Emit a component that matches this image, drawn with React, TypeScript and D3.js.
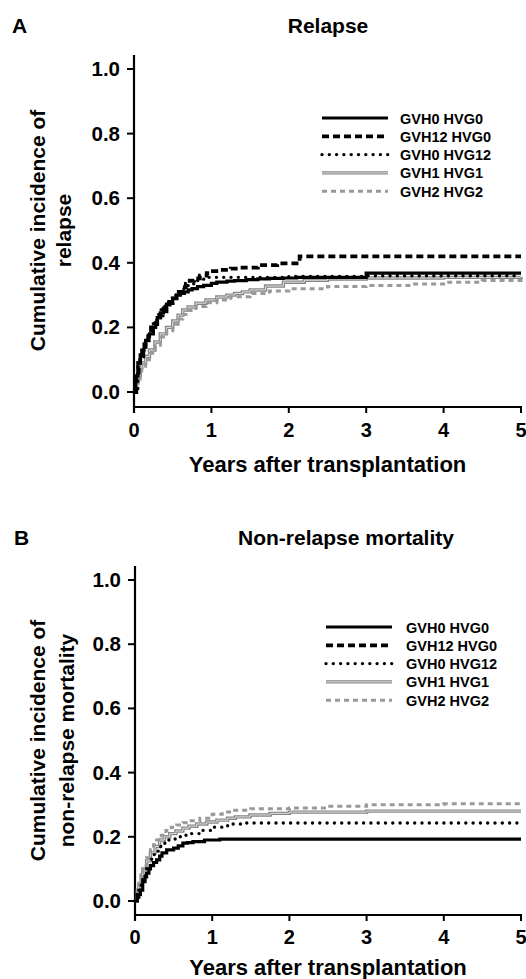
import React from 'react';
import * as d3 from 'd3';

type Pt = [number, number];

const SERIES_NAMES = ['GVH0 HVG0', 'GVH12 HVG0', 'GVH0 HVG12', 'GVH1 HVG1', 'GVH2 HVG2'];
const X_TICKS = [0, 1, 2, 3, 4, 5];
const Y_TICKS = [0, 0.2, 0.4, 0.6, 0.8, 1.0];

// Panel A: relapse
const REL_GVH0_HVG0: Pt[] = [[0,0],[0.02,0.05],[0.05,0.09],[0.08,0.115],[0.1,0.13],[0.13,0.148],[0.15,0.16],[0.18,0.172],[0.2,0.18],[0.25,0.2],[0.28,0.215],[0.3,0.23],[0.34,0.245],[0.38,0.26],[0.42,0.272],[0.45,0.28],[0.5,0.29],[0.55,0.3],[0.6,0.305],[0.65,0.31],[0.7,0.316],[0.75,0.32],[0.82,0.326],[0.9,0.33],[1.0,0.336],[1.07,0.34],[1.2,0.343],[1.3,0.345],[1.45,0.348],[1.6,0.35],[1.75,0.352],[1.93,0.353],[2.1,0.355],[3.0,0.368],[5,0.368]];
const REL_GVH12_HVG0: Pt[] = [[0,0],[0.03,0.06],[0.06,0.09],[0.08,0.11],[0.12,0.14],[0.15,0.16],[0.19,0.185],[0.22,0.2],[0.26,0.21],[0.3,0.22],[0.34,0.237],[0.37,0.25],[0.42,0.262],[0.46,0.275],[0.5,0.29],[0.55,0.31],[0.62,0.325],[0.67,0.335],[0.72,0.345],[0.78,0.352],[0.85,0.36],[0.94,0.368],[1.02,0.374],[1.1,0.378],[1.25,0.382],[1.37,0.385],[1.6,0.393],[1.85,0.398],[2.14,0.42],[5,0.42]];
const REL_GVH0_HVG12: Pt[] = [[0,0],[0.05,0.08],[0.08,0.11],[0.1,0.13],[0.15,0.16],[0.2,0.19],[0.25,0.215],[0.3,0.24],[0.35,0.255],[0.4,0.27],[0.45,0.285],[0.5,0.3],[0.55,0.31],[0.6,0.32],[0.65,0.328],[0.7,0.335],[0.8,0.345],[0.9,0.355],[2.0,0.358],[3.0,0.36],[5,0.36]];
const REL_GVH1_HVG1: Pt[] = [[0,0],[0.03,0.03],[0.05,0.05],[0.08,0.075],[0.1,0.09],[0.15,0.11],[0.2,0.13],[0.27,0.155],[0.34,0.18],[0.42,0.2],[0.5,0.22],[0.57,0.238],[0.63,0.254],[0.7,0.263],[0.8,0.275],[0.93,0.285],[1.07,0.294],[1.2,0.3],[1.3,0.305],[1.4,0.31],[1.5,0.316],[1.7,0.328],[1.93,0.34],[2.2,0.346],[2.5,0.35],[3,0.353],[4,0.355],[5,0.356]];
const REL_GVH2_HVG2: Pt[] = [[0,0],[0.03,0.025],[0.05,0.04],[0.08,0.065],[0.1,0.08],[0.15,0.1],[0.2,0.12],[0.27,0.145],[0.34,0.17],[0.42,0.19],[0.5,0.21],[0.57,0.226],[0.63,0.24],[0.7,0.252],[0.8,0.265],[0.93,0.276],[1.07,0.285],[1.25,0.295],[1.5,0.305],[1.75,0.313],[2,0.32],[2.5,0.327],[3,0.33],[3.6,0.334],[4,0.34],[4.5,0.345],[5,0.35]];

// Panel B: non-relapse mortality
const NRM_GVH0_HVG0: Pt[] = [[0,0],[0.03,0.02],[0.07,0.034],[0.1,0.06],[0.13,0.075],[0.15,0.087],[0.18,0.1],[0.2,0.11],[0.24,0.12],[0.28,0.128],[0.32,0.14],[0.35,0.15],[0.41,0.159],[0.5,0.165],[0.56,0.172],[0.62,0.18],[0.68,0.182],[0.75,0.185],[0.9,0.19],[1.1,0.193],[5,0.193]];
const NRM_GVH12_HVG0: Pt[] = [];
const NRM_GVH0_HVG12: Pt[] = [[0,0],[0.05,0.04],[0.08,0.065],[0.1,0.08],[0.15,0.105],[0.2,0.13],[0.25,0.15],[0.3,0.17],[0.35,0.18],[0.4,0.19],[0.52,0.2],[0.6,0.205],[0.7,0.21],[0.84,0.22],[1.0,0.23],[1.2,0.24],[1.4,0.243],[5,0.243]];
const NRM_GVH1_HVG1: Pt[] = [[0,0],[0.03,0.03],[0.05,0.05],[0.08,0.08],[0.1,0.1],[0.15,0.125],[0.2,0.15],[0.26,0.17],[0.32,0.19],[0.38,0.2],[0.45,0.21],[0.53,0.218],[0.62,0.227],[0.7,0.233],[0.8,0.24],[0.93,0.246],[1.06,0.252],[1.2,0.258],[1.3,0.262],[1.49,0.268],[1.75,0.273],[2,0.277],[3,0.28],[5,0.28]];
const NRM_GVH2_HVG2: Pt[] = [[0,0],[0.03,0.035],[0.05,0.06],[0.08,0.09],[0.1,0.11],[0.15,0.135],[0.2,0.16],[0.24,0.175],[0.28,0.19],[0.34,0.205],[0.4,0.22],[0.47,0.23],[0.54,0.237],[0.62,0.244],[0.7,0.25],[0.84,0.258],[1.0,0.27],[1.13,0.277],[1.27,0.283],[1.5,0.287],[2,0.29],[2.5,0.295],[3,0.3],[4,0.303],[5,0.308]];

const FONT = '"Liberation Sans", Arial, Helvetica, sans-serif';

type Style = { stroke: string; width: number; dash?: string; cap?: string; inner?: string };
const STYLES: Style[] = [
  { stroke: '#000', width: 3.2 },
  { stroke: '#000', width: 3.8, dash: '7,4' },
  { stroke: '#000', width: 3.4, dash: '0,7.3', cap: 'round' },
  { stroke: '#858585', width: 3.4, inner: '#e2e2e2' },
  { stroke: '#999', width: 3, dash: '5,4' },
];

type PanelProps = {
  letter: string;
  title: string;
  titleX: number;
  titleY: number;
  letterX: number;
  yLabel: string[];
  yLabelX: number[];
  data: Pt[][];
  xLeft: number;
  xRight: number;
  y0: number;
  y1: number;
  axisY: number;
  axisTop: number;
  xTickLabelY: number;
  xLabelY: number;
  legX1: number;
  legX2: number;
  legTextX: number;
  legY: number;
};

function Panel(p: PanelProps) {
  const x = d3.scaleLinear().domain([0, 5]).range([p.xLeft, p.xRight]);
  const y = d3.scaleLinear().domain([0, 1]).range([p.y0, p.y1]);
  const line = d3.line<Pt>().x(d => x(d[0])).y(d => y(d[1])).curve(d3.curveStepAfter);
  const yMid = (p.y0 + p.y1) / 2;
  const order = [3, 4, 2, 0, 1];
  return (
    <g fontFamily={FONT} fontWeight="bold" fill="#000">
      <text x={p.letterX} y={p.titleY} fontSize={21}>{p.letter}</text>
      <text x={p.titleX} y={p.titleY} fontSize={21} textAnchor="middle">{p.title}</text>
      {p.yLabel.map((s, i) => (
        <text key={i} transform={`translate(${p.yLabelX[i]},${yMid}) rotate(-90)`} fontSize={21} textAnchor="middle">{s}</text>
      ))}
      {/* axes */}
      <line x1={p.xLeft} x2={p.xLeft} y1={p.axisTop} y2={p.axisY + 6} stroke="#000" strokeWidth={2.2} />
      <line x1={p.xLeft} x2={p.xRight + 1} y1={p.axisY} y2={p.axisY} stroke="#000" strokeWidth={2.2} />
      {Y_TICKS.map(t => (
        <g key={t}>
          <line x1={p.xLeft - 7} x2={p.xLeft} y1={y(t)} y2={y(t)} stroke="#000" strokeWidth={2} />
          <text x={p.xLeft - 14} y={y(t) + 7} fontSize={20.5} textAnchor="end">{t.toFixed(1)}</text>
        </g>
      ))}
      {X_TICKS.map(t => (
        <g key={t}>
          <line x1={x(t)} x2={x(t)} y1={p.axisY} y2={p.axisY + 6} stroke="#000" strokeWidth={2} />
          <text x={x(t)} y={p.xTickLabelY} fontSize={20} textAnchor="middle">{t}</text>
        </g>
      ))}
      <text x={(p.xLeft + p.xRight) / 2} y={p.xLabelY} fontSize={22} textAnchor="middle">Years after transplantation</text>
      {/* curves */}
      {order.map(i => {
        const d = p.data[i];
        if (!d.length) return null;
        const s = STYLES[i];
        const path = line(d) || '';
        return (
          <g key={i}>
            <path d={path} fill="none" stroke={s.stroke} strokeWidth={s.width} strokeDasharray={s.dash} strokeLinecap={(s.cap as any) || 'butt'} />
            {s.inner && <path d={path} fill="none" stroke={s.inner} strokeWidth={1} />}
          </g>
        );
      })}
      {/* legend */}
      {SERIES_NAMES.map((name, i) => {
        const s = STYLES[i];
        const ly = p.legY + i * 18.3;
        return (
          <g key={name}>
            <line x1={p.legX1} x2={p.legX2} y1={ly} y2={ly} stroke={s.stroke} strokeWidth={s.width} strokeDasharray={s.dash} strokeLinecap={(s.cap as any) || 'butt'} />
            {s.inner && <line x1={p.legX1} x2={p.legX2} y1={ly} y2={ly} stroke={s.inner} strokeWidth={1} />}
            <text x={p.legTextX} y={ly + 5.5} fontSize={14.5}>{name}</text>
          </g>
        );
      })}
    </g>
  );
}

export default function App() {
  return (
    <svg width={526} height={979} style={{ position: 'absolute', left: 0, top: 0, background: '#fff' }}>
      <rect width={526} height={979} fill="#fff" />
      <Panel
        letter="A" title="Relapse" titleX={328} titleY={33} letterX={12}
        yLabel={['Cumulative incidence of', 'relapse']} yLabelX={[45, 71]}
        data={[REL_GVH0_HVG0, REL_GVH12_HVG0, REL_GVH0_HVG12, REL_GVH1_HVG1, REL_GVH2_HVG2]}
        xLeft={134} xRight={521} y0={392} y1={69} axisY={407} axisTop={55}
        xTickLabelY={437} xLabelY={472}
        legX1={322} legX2={388} legTextX={400} legY={118}
      />
      <Panel
        letter="B" title="Non-relapse mortality" titleX={346} titleY={545} letterX={14}
        yLabel={['Cumulative incidence of', 'non-relapse mortality']} yLabelX={[45, 74]}
        data={[NRM_GVH0_HVG0, NRM_GVH12_HVG0, NRM_GVH0_HVG12, NRM_GVH1_HVG1, NRM_GVH2_HVG2]}
        xLeft={135} xRight={521} y0={901} y1={580} axisY={915} axisTop={566}
        xTickLabelY={944} xLabelY={975}
        legX1={326} legX2={392} legTextX={406} legY={627}
      />
    </svg>
  );
}
